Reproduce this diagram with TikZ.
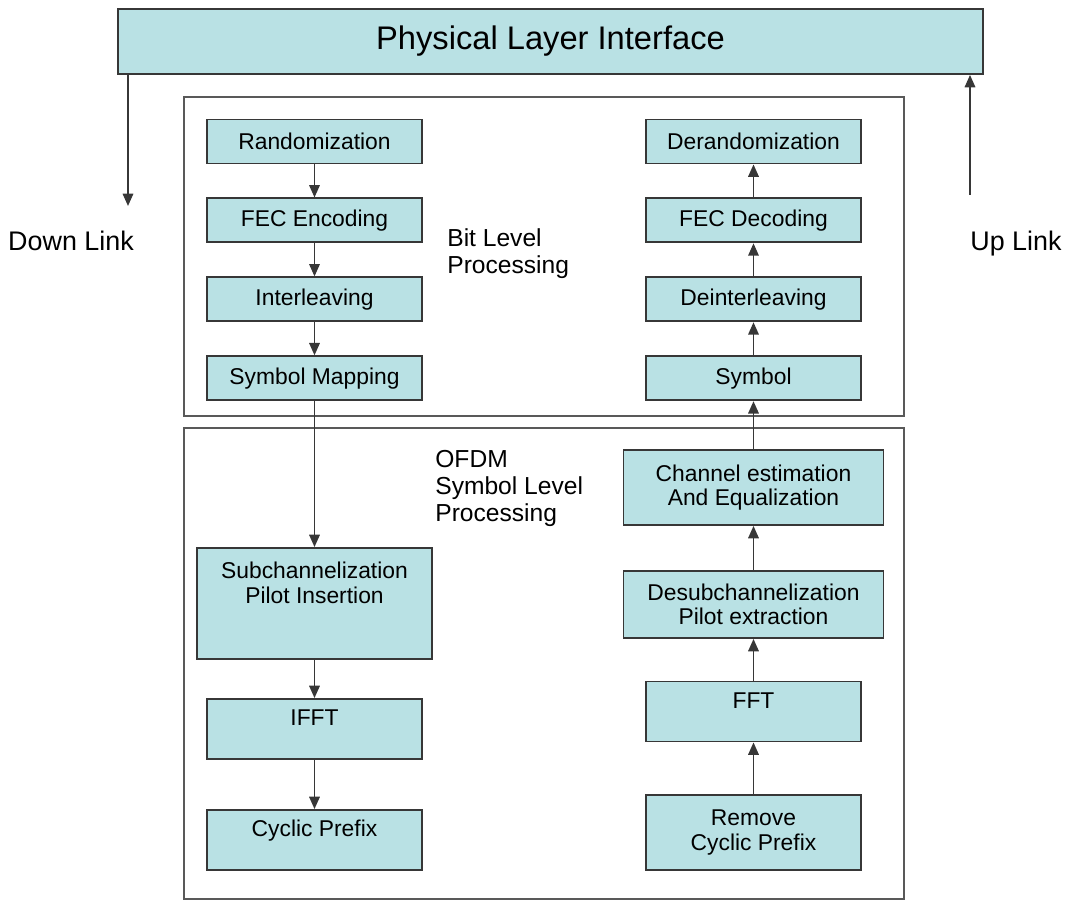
\documentclass[tikz,border=0pt]{standalone}
\usepackage{fontspec}
\setmainfont{Liberation Sans}
\usetikzlibrary{arrows.meta, positioning}
\definecolor{blockcyan}{RGB}{185,225,228}
\definecolor{edgegray}{RGB}{55,55,55}
\newcommand{\blockfont}{\fontsize{13}{14}\selectfont}
\newcommand{\notefont}{\fontsize{14}{15.5}\selectfont}
\newcommand{\linkfont}{\fontsize{15.3}{17}\selectfont}
\newcommand{\titlefont}{\fontsize{18.6}{22}\selectfont}

\begin{document}
\begin{tikzpicture}[
    x=0.02cm, y=-0.02cm,
    block/.style={draw=edgegray, line width=1.1pt, fill=blockcyan, minimum width=4.3cm,
                  minimum height=0.88cm, align=center, font=\blockfont, inner sep=2pt},
    topblock/.style={block, inner ysep=0pt, text height=0.54cm, text depth=0.66cm},
    frame/.style={draw=black!65, line width=1.1pt},
    note/.style={align=left, anchor=north west, inner sep=0pt, font=\notefont},
    linktext/.style={anchor=base, inner sep=0pt, font=\linkfont},
    arr/.style={-{Triangle[length=7pt, width=6pt]}, line width=0.9pt, draw=edgegray},
  ]
    \useasboundingbox (0,0) rectangle (1066,901);

    % processing frames
    \draw[frame] (184,97) rectangle (904,416);
    \draw[frame] (184,428) rectangle (904,899);

    \node[block, minimum width=17.3cm, minimum height=1.3cm, font=\titlefont] (phy)
      at (550.5,41.5) {Physical Layer Interface};

    % bit level, transmit side
    \node[block] (rand) at (314.5,141.5) {Randomization};
    \node[block, below=0.66cm of rand] (fecenc) {FEC Encoding};
    \node[block, below=0.66cm of fecenc] (inter) {Interleaving};
    \node[block, below=0.66cm of inter] (symmap) {Symbol Mapping};

    % bit level, receive side
    \node[block] (derand) at (753.5,141.5) {Derandomization};
    \node[block, below=0.66cm of derand] (fecdec) {FEC Decoding};
    \node[block, below=0.66cm of fecdec] (deinter) {Deinterleaving};
    \node[block, below=0.66cm of deinter] (symbol) {Symbol};

    % OFDM symbol level, transmit side
    \node[block, minimum width=4.7cm, minimum height=2.22cm,
      label={[font=\blockfont, align=center, anchor=north, inner sep=0pt, yshift=-0.3cm]north:Subchannelization\\Pilot Insertion}]
      (subch) at (314.5,603.5) {};
    \node[topblock] (ifft) at (314.5,729) {IFFT};
    \node[topblock] (cycpre) at (314.5,840) {Cyclic Prefix};

    % OFDM symbol level, receive side
    \node[block, minimum width=5.2cm, minimum height=1.5cm] (chest) at (753.5,487.5)
      {Channel estimation\\And Equalization};
    \node[block, minimum width=5.2cm, minimum height=1.34cm] (desub) at (753.5,604.5)
      {Desubchannelization\\Pilot extraction};
    \node[topblock] (fft) at (753.5,711.5) {FFT};
    \node[block, minimum height=1.5cm] (rmcp) at (753.5,832.5) {Remove\\Cyclic Prefix};

    \node[note] (bitlvl) at (447,228) {Bit Level\\Processing};
    \node[note] (ofdmlvl) at (435,449.5) {OFDM\\Symbol Level\\Processing};

    \node[linktext] (dltext) at (71,250.5) {Down Link};
    \node[linktext] (ultext) at (1016,250.5) {Up Link};
    \coordinate (dlend) at (128,206);
    \coordinate (ulstart) at (970,195);

    \draw[arr] (dlend |- phy.south) -- (dlend);
    \draw[arr] (ulstart) -- (ulstart |- phy.south);

    \draw[arr] (rand) -- (fecenc);
    \draw[arr] (fecenc) -- (inter);
    \draw[arr] (inter) -- (symmap);
    \draw[arr] (symmap) -- (subch);
    \draw[arr] (subch) -- (ifft);
    \draw[arr] (ifft) -- (cycpre);

    \draw[arr] (rmcp) -- (fft);
    \draw[arr] (fft) -- (desub);
    \draw[arr] (desub) -- (chest);
    \draw[arr] (chest) -- (symbol);
    \draw[arr] (symbol) -- (deinter);
    \draw[arr] (deinter) -- (fecdec);
    \draw[arr] (fecdec) -- (derand);
  \end{tikzpicture}
\end{document}
